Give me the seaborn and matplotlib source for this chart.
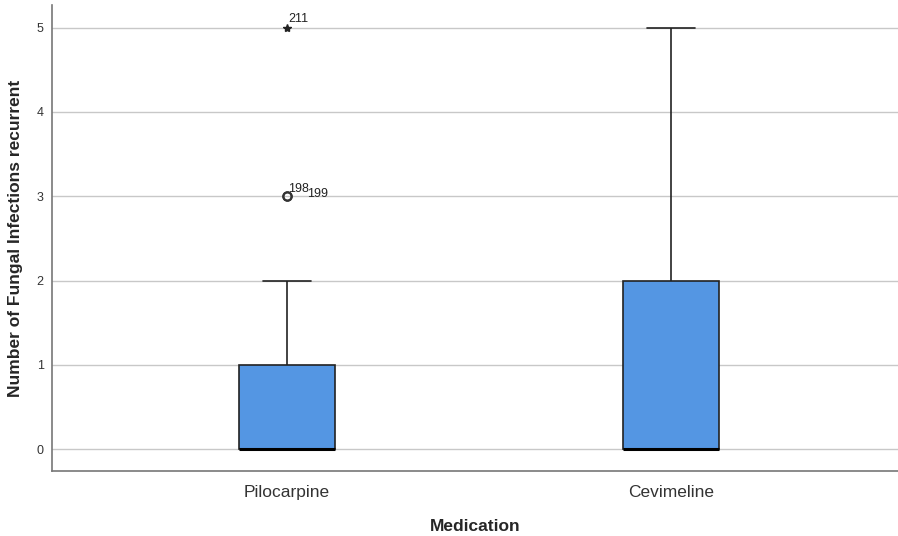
import numpy as np
import pandas as pd
import matplotlib
matplotlib.use("Agg")
import matplotlib.pyplot as plt
import seaborn as sns

# values and how many cases have each
groups = ["Pilocarpine", "Cevimeline"]
pilo_values = [0, 1, 2]
pilo_counts = [60, 25, 10]
cevi_values = [0, 1, 2, 3, 4, 5]
cevi_counts = [50, 15, 15, 8, 6, 4]

# outliers drawn on top (circle = outlier, star = extreme)
out_group = ["Pilocarpine", "Pilocarpine", "Pilocarpine"]
out_value = [3, 3, 5]
out_kind = ["outlier", "outlier", "extreme"]
out_case = ["198", "199", "211"]

rows = []
for v, n in zip(pilo_values, pilo_counts):
    rows += [("Pilocarpine", v)] * n
for v, n in zip(cevi_values, cevi_counts):
    rows += [("Cevimeline", v)] * n
df = pd.DataFrame(rows, columns=["Medication", "Infections"])

sns.set_style("white")
plt.rcParams["font.family"] = ["Liberation Sans", "DejaVu Sans"]

fig = plt.figure(figsize=(8.98, 5.36), dpi=100)
ax = fig.add_axes([0.058, 0.121, 0.942, 0.870])

ax.set_axisbelow(True)
ax.yaxis.grid(True, color="#c8c8c8", linewidth=1)

sns.boxplot(x="Medication", y="Infections", data=df, order=groups,
            color="#5496e3", saturation=1, width=0.25, whis=1.5,
            showfliers=False, linecolor="#222222", linewidth=1.2,
            medianprops=dict(color="black", linewidth=2.2), ax=ax)

for g, v, k in zip(out_group, out_value, out_kind):
    xpos = groups.index(g)
    if k == "outlier":
        ax.plot(xpos, v, marker="o", markersize=6, markerfacecolor="none",
                markeredgecolor="#333333", markeredgewidth=1.5, zorder=5)
    else:
        ax.plot(xpos, v, marker="*", markersize=6, color="#222222", zorder=5)

# case labels
label_offsets = {"198": (1, 7), "199": (20, 2), "211": (2, 9)}
for g, v, c in zip(out_group, out_value, out_case):
    xpos = groups.index(g)
    dx, dy = label_offsets[c]
    ax.annotate(c, (xpos, v), xytext=(dx, dy), textcoords="offset pixels",
                fontsize=9, color="#222222", ha="left", va="center")

ax.set_xlim(-0.61, 1.59)
ax.set_ylim(-0.26, 5.27)
ax.set_yticks([0, 1, 2, 3, 4, 5])
ax.tick_params(axis="y", length=0, labelsize=9, labelcolor="#333333", pad=6)
ax.tick_params(axis="x", length=0, labelsize=12.5, labelcolor="#333333", pad=10)

for side in ["top", "right"]:
    ax.spines[side].set_visible(False)
for side in ["left", "bottom"]:
    ax.spines[side].set_color("#777777")
    ax.spines[side].set_linewidth(1.2)

ax.set_xlabel("Medication", fontsize=12.5, fontweight="bold", labelpad=14)
ax.set_ylabel("Number of Fungal Infections recurrent", fontsize=12.5,
              fontweight="bold", labelpad=10)

fig.savefig("out.png", dpi=100)
